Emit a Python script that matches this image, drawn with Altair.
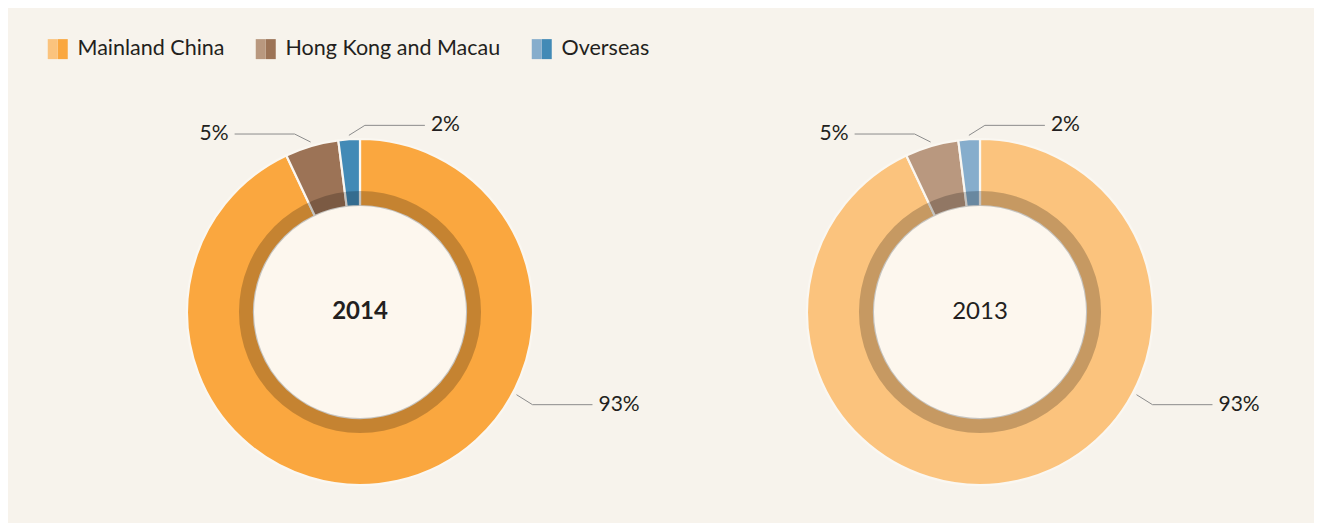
import math
import altair as alt
import pandas as pd

# ---------------- data ----------------
categories = ["Mainland China", "Hong Kong and Macau", "Overseas"]
years = ["2014", "2013"]
share_2014 = [93, 5, 2]
share_2013 = [93, 5, 2]

# ---------------- style ----------------
colors_2014 = ["#FAA73F", "#9C7356", "#428AB6"]
colors_2013 = ["#FBC37D", "#B9987F", "#86ADCC"]
BG = "#F7F3EC"
GAP = "#FAF7F1"
DISC = "#FDF7EE"
INK = "#231F20"
LEADER = "#8C8C8C"
FONT = "Lato"
R_OUT, R_IN, R_RING, R_LEAD = 173, 106, 121, 177
PANEL_W, PANEL_H = 653, 515
CY = 304  # donut centre from top of plot area

rows = []
for year, shares in zip(years, [share_2014, share_2013]):
    for i, (c, v) in enumerate(zip(categories, shares)):
        rows.append({"year": year, "category": c, "value": v, "order": i})
df = pd.DataFrame(rows)
year_df = pd.DataFrame({"year": years})


def panel(year, colors, cx, bold, legend_x, symbol_path, label_color):
    xs = alt.Scale(domain=[-cx, PANEL_W - cx], nice=False, zero=False)
    ys = alt.Scale(domain=[-CY, PANEL_H - CY], nice=False, zero=False, reverse=True)

    def X(field=None, datum=None):
        if datum is not None:
            return alt.X(datum=datum, type="quantitative", scale=xs, axis=None)
        return alt.X(field, type="quantitative", scale=xs, axis=None)

    def Y(field=None, datum=None):
        if datum is not None:
            return alt.Y(datum=datum, type="quantitative", scale=ys, axis=None)
        return alt.Y(field, type="quantitative", scale=ys, axis=None)

    base = alt.Chart(df).transform_filter(alt.datum.year == year)

    arcs = base.mark_arc(
        outerRadius=R_OUT, innerRadius=R_IN, stroke=GAP, strokeWidth=2.2
    ).encode(
        theta=alt.Theta("value:Q", stack=True),
        order=alt.Order("order:Q"),
        color=alt.Color(
            "category:N",
            scale=alt.Scale(domain=categories, range=colors),
            legend=alt.Legend(
                orient="none",
                legendX=legend_x,
                legendY=30,
                direction="horizontal",
                title=None,
                symbolType=symbol_path,
                symbolSize=400,
                symbolStrokeWidth=0,
                symbolOpacity=1,
                labelFont=FONT,
                labelFontSize=21.5,
                labelColor=label_color,
                labelOffset=9,
                labelLimit=0,
                columnPadding=30,
                padding=0,
            ),
        ),
        x=X(datum=0),
        y=Y(datum=0),
    )

    ydata = alt.Chart(year_df).transform_filter(alt.datum.year == year)

    disc = ydata.mark_arc(
        outerRadius=R_IN, innerRadius=0, theta=0, theta2=2 * math.pi, color=DISC
    ).encode(x=X(datum=0), y=Y(datum=0))

    ring = ydata.mark_arc(
        outerRadius=R_RING, innerRadius=R_IN, theta=0, theta2=2 * math.pi,
        color="black", opacity=0.21,
    ).encode(x=X(datum=0), y=Y(datum=0))

    lab = (
        base.transform_joinaggregate(total="sum(value)")
        .transform_window(cum="sum(value)", sort=[alt.SortField("order")], frame=[None, 0])
        .transform_calculate(
            start="(datum.cum - datum.value) / datum.total",
            frac="datum.value / datum.total",
            pos="datum.frac > 0.5 ? 0.352 : 0.5",
            ang="2 * PI * (datum.start + datum.pos * datum.frac)",
            px=f"{R_LEAD} * sin(datum.ang)",
            py=f"-{R_LEAD} * cos(datum.ang)",
            side="datum.px > -20 ? 1 : -1",
            ex="datum.px + 16 * datum.side",
            ey="datum.py + (datum.py > 0 ? 10 : (datum.side > 0 ? -10 : -8))",
            hx="datum.ex + 60 * datum.side",
            tx="datum.hx + 6 * datum.side",
            label="datum.value + '%'",
        )
    )

    seg1 = lab.mark_rule(color=LEADER, strokeWidth=1).encode(
        x=X("px"), y=Y("py"), x2="ex:Q", y2="ey:Q"
    )
    seg2 = lab.mark_rule(color=LEADER, strokeWidth=1).encode(
        x=X("ex"), y=Y("ey"), x2="hx:Q", y2="ey:Q"
    )
    txt_r = lab.transform_filter("datum.side > 0").mark_text(
        align="left", baseline="middle", font=FONT, fontSize=21, color=INK
    ).encode(x=X("tx"), y=Y("ey"), text="label:N")
    txt_l = lab.transform_filter("datum.side < 0").mark_text(
        align="right", baseline="middle", font=FONT, fontSize=21, color=INK
    ).encode(x=X("tx"), y=Y("ey"), text="label:N")

    center = ydata.mark_text(
        align="center", baseline="middle", font=FONT, fontSize=24,
        fontWeight="bold" if bold else "normal", color=INK,
    ).encode(x=X(datum=0), y=Y(datum=0), text="year:N")

    return alt.layer(arcs, disc, ring, seg1, seg2, txt_r, txt_l, center).properties(
        width=PANEL_W, height=PANEL_H
    )


p2014 = panel("2014", colors_2014, 352, True, 39, "M0,-1H1V1H0Z", INK)
p2013 = panel("2013", colors_2013, 972 - PANEL_W, False, 39 - PANEL_W, "M-1,-1H0V1H-1Z", "transparent")

chart = (
    alt.hconcat(p2014, p2013, spacing=0, bounds="flush")
    .resolve_scale(color="independent")
    .properties(padding=0, background=BG)
    .configure_view(strokeWidth=0, stroke="transparent")
)

chart.save("out.html", embed_options={"renderer": "svg", "actions": False})
